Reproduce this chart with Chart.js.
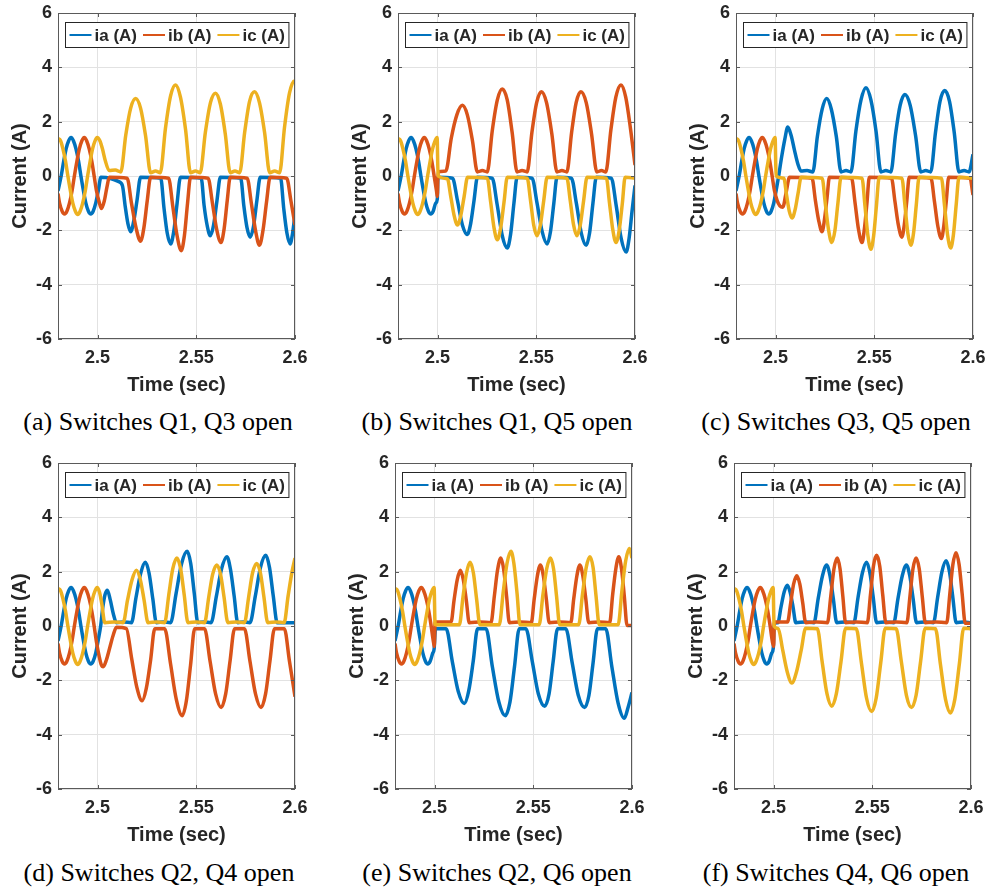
<!DOCTYPE html>
<html>
<head>
<meta charset="utf-8">
<script src="https://cdn.jsdelivr.net/npm/chart.js@4.4.1/dist/chart.umd.min.js"></script>
<style>
    body { margin: 0; background: #fff; }
    #fig { position: relative; width: 991px; height: 890px; overflow: hidden; }
    #fig canvas { position: absolute; }
    .cap {
        position: absolute; width: 340px; text-align: center; white-space: nowrap;
        font-family: "Liberation Serif", "Times New Roman", serif; font-size: 26px; line-height: 30px; color: #000;
    }
    #chartA { left: 0; top: 0; }
    #chartB { left: 340px; top: 0; }
    #chartC { left: 678px; top: 0; }
    #chartD { left: 0; top: 450px; }
    #chartE { left: 337px; top: 450px; }
    #chartF { left: 676px; top: 450px; }
    #capA { left: -12px; top: 407px; }
    #capB { left: 327px; top: 407px; }
    #capC { left: 666px; top: 407px; }
    #capD { left: -11px; top: 858px; }
    #capE { left: 327px; top: 858px; }
    #capF { left: 666px; top: 858px; }
</style>
</head>
<body>
<div id="fig">
    <canvas id="chartA" width="309" height="399"></canvas>
    <canvas id="chartB" width="309" height="399"></canvas>
    <canvas id="chartC" width="309" height="399"></canvas>
    <canvas id="chartD" width="309" height="399"></canvas>
    <canvas id="chartE" width="309" height="399"></canvas>
    <canvas id="chartF" width="309" height="399"></canvas>
    <div class="cap" id="capA"></div>
    <div class="cap" id="capB"></div>
    <div class="cap" id="capC"></div>
    <div class="cap" id="capD"></div>
    <div class="cap" id="capE"></div>
    <div class="cap" id="capF"></div>
</div>
<script>
const captions = [
    "(a) Switches Q1, Q3 open", "(b) Switches Q1, Q5 open", "(c) Switches Q3, Q5 open",
    "(d) Switches Q2, Q4 open", "(e) Switches Q2, Q6 open", "(f) Switches Q4, Q6 open",
];
const phaseNames = ["ia (A)", "ib (A)", "ic (A)"];
const timeTicks = [2.5, 2.55, 2.6];
const currentTicks = [-6, -4, -2, 0, 2, 4, 6];

// healthy operation before the fault at t = 2.5 s  [time, current]
const preIa = [[2.48,-0.55],[2.4816,0],[2.4829,0.55],[2.4841,1.0],[2.4854,1.3],[2.4866,1.42],[2.4878,1.3],[2.4891,1.0],[2.4904,0.55],[2.4916,0],[2.4929,-0.55],[2.4941,-1.0],[2.4954,-1.3],[2.4966,-1.4],[2.4978,-1.3],[2.4991,-1.0]];
const preIb = [[2.48,-0.65],[2.4808,-1.0],[2.4821,-1.3],[2.4833,-1.4],[2.4845,-1.3],[2.4858,-1.0],[2.4871,-0.55],[2.4883,0],[2.4896,0.55],[2.4908,1.0],[2.4921,1.3],[2.4933,1.42],[2.4945,1.3],[2.4958,1.0],[2.4971,0.55],[2.4983,0]];
const preIc = [[2.48,1.38],[2.4813,1.3],[2.4825,1.0],[2.4838,0.55],[2.485,0],[2.4863,-0.55],[2.4875,-1.0],[2.4888,-1.3],[2.49,-1.42],[2.4912,-1.3],[2.4925,-1.0],[2.4938,-0.55],[2.495,0],[2.4963,0.55],[2.4975,1.0],[2.4988,1.3],[2.4998,1.42]];

// (a) Q1, Q3 open
const iaA = [[2.5005,-0.5],[2.5017,-0.05],[2.507,-0.1],[2.5105,-0.2],[2.5126,-0.35],[2.5140,-1.1],[2.5154,-1.75],[2.5168,-2.05],[2.5185,-1.6],[2.5200,-0.9],[2.5218,-0.05],[2.5320,-0.08],[2.5337,-1.2],[2.5353,-2.1],[2.5370,-2.5],[2.5387,-2.0],[2.5403,-1.0],[2.5420,-0.05],[2.5525,-0.08],[2.5540,-1.1],[2.5556,-1.85],[2.5571,-2.2],[2.5588,-1.8],[2.5605,-0.9],[2.5622,-0.05],[2.5725,-0.08],[2.5741,-1.1],[2.5757,-1.9],[2.5773,-2.25],[2.5790,-1.85],[2.5807,-0.9],[2.5824,-0.05],[2.5927,-0.08],[2.5943,-1.2],[2.5959,-2.1],[2.5975,-2.5],[2.5988,-2.1],[2.6,-1.4]];
const ibA = [[2.4995,-0.55],[2.5008,-0.95],[2.502,-1.2],[2.5035,-0.9],[2.5048,-0.4],[2.506,-0.05],[2.5150,-0.08],[2.5172,-1.0],[2.5195,-1.9],[2.5218,-2.4],[2.5235,-1.9],[2.5252,-0.9],[2.5269,-0.05],[2.5360,-0.08],[2.5381,-1.1],[2.5403,-2.2],[2.5424,-2.75],[2.5440,-2.2],[2.5456,-1.0],[2.5471,-0.05],[2.5560,-0.08],[2.5582,-1.0],[2.5603,-1.95],[2.5625,-2.45],[2.5641,-1.95],[2.5657,-0.9],[2.5672,-0.05],[2.5758,-0.08],[2.5779,-1.0],[2.5800,-2.0],[2.5820,-2.55],[2.5838,-2.0],[2.5856,-0.95],[2.5874,-0.05],[2.5958,-0.08],[2.5979,-0.9],[2.6,-1.8]];
const icA = [[2.5012,1.3],[2.5025,1.0],[2.5040,0.55],[2.5059,0.2],[2.5090,0.22],[2.5118,0.15],[2.5143,1.5],[2.5168,2.5],[2.5193,2.85],[2.5218,2.5],[2.5243,1.5],[2.5269,0.12],[2.5294,0.18],[2.5318,0.12],[2.5344,1.75],[2.5370,2.95],[2.5395,3.35],[2.5420,2.9],[2.5446,1.7],[2.5471,0.12],[2.5496,0.18],[2.5520,0.12],[2.5546,1.6],[2.5572,2.7],[2.5597,3.05],[2.5622,2.65],[2.5647,1.55],[2.5672,0.12],[2.5696,0.18],[2.5720,0.12],[2.5745,1.6],[2.5770,2.75],[2.5795,3.1],[2.5820,2.7],[2.5846,1.6],[2.5872,0.12],[2.5897,0.18],[2.5922,0.12],[2.5947,1.8],[2.5972,3.05],[2.5997,3.5],[2.6,3.48]];

// (b) Q1, Q5 open
const iaB = [[2.4999,-0.85],[2.5002,-0.05],[2.5076,-0.08],[2.5101,-0.9],[2.5126,-1.8],[2.5151,-2.15],[2.5168,-1.75],[2.5185,-0.9],[2.5202,-0.05],[2.5277,-0.08],[2.5302,-1.05],[2.5328,-2.2],[2.5353,-2.65],[2.5370,-2.15],[2.5387,-1.0],[2.5403,-0.05],[2.5479,-0.08],[2.5504,-1.0],[2.5530,-2.05],[2.5555,-2.5],[2.5572,-2.05],[2.5589,-1.0],[2.5605,-0.05],[2.5678,-0.08],[2.5703,-1.0],[2.5728,-2.1],[2.5753,-2.55],[2.5770,-2.1],[2.5787,-1.0],[2.5804,-0.05],[2.5880,-0.08],[2.5905,-1.1],[2.5930,-2.3],[2.5955,-2.8],[2.5970,-2.3],[2.5985,-1.3],[2.6,-0.35]];
const ibB = [[2.4995,-0.55],[2.4999,-0.75],[2.5003,0.15],[2.5042,0.18],[2.5070,1.4],[2.5098,2.25],[2.5126,2.6],[2.5151,2.25],[2.5177,1.3],[2.5202,0.15],[2.5227,0.2],[2.5252,0.15],[2.5277,1.65],[2.5303,2.8],[2.5328,3.2],[2.5353,2.8],[2.5378,1.6],[2.5403,0.15],[2.5428,0.2],[2.5454,0.15],[2.5478,1.6],[2.5502,2.7],[2.5526,3.1],[2.5552,2.7],[2.5579,1.55],[2.5605,0.15],[2.5630,0.2],[2.5655,0.15],[2.5679,1.6],[2.5702,2.7],[2.5726,3.1],[2.5753,2.7],[2.5780,1.55],[2.5807,0.15],[2.5830,0.2],[2.5852,0.15],[2.5878,1.7],[2.5903,2.9],[2.5929,3.35],[2.5953,2.9],[2.5977,1.75],[2.6,0.4]];
const icB = [[2.5003,0.0],[2.5050,-0.1],[2.5067,-0.75],[2.5084,-1.45],[2.5101,-1.8],[2.5118,-1.45],[2.5135,-0.75],[2.5152,-0.05],[2.5252,-0.08],[2.5269,-0.95],[2.5286,-1.9],[2.5303,-2.35],[2.5320,-1.9],[2.5337,-0.95],[2.5353,-0.05],[2.5454,-0.08],[2.5471,-0.9],[2.5487,-1.8],[2.5504,-2.2],[2.5521,-1.8],[2.5538,-0.9],[2.5555,-0.05],[2.5655,-0.08],[2.5672,-0.9],[2.5689,-1.8],[2.5706,-2.2],[2.5723,-1.8],[2.5740,-0.9],[2.5757,-0.05],[2.5855,-0.08],[2.5871,-1.0],[2.5888,-2.0],[2.5904,-2.45],[2.5920,-2.0],[2.5936,-1.0],[2.5950,-0.05],[2.6,-0.08]];

// (c) Q3, Q5 open
const iaC = [[2.5004,-0.5],[2.5016,0],[2.5031,0.7],[2.5047,1.35],[2.5062,1.8],[2.5079,1.5],[2.5096,0.95],[2.5113,0.45],[2.5130,0.18],[2.5160,0.2],[2.5189,0.15],[2.5212,1.45],[2.5236,2.45],[2.5259,2.85],[2.5283,2.45],[2.5308,1.45],[2.5332,0.15],[2.5357,0.2],[2.5382,0.15],[2.5407,1.65],[2.5433,2.8],[2.5458,3.25],[2.5483,2.8],[2.5509,1.65],[2.5534,0.15],[2.5559,0.2],[2.5584,0.15],[2.5608,1.55],[2.5631,2.6],[2.5655,3.0],[2.5682,2.6],[2.5709,1.5],[2.5736,0.15],[2.5761,0.2],[2.5786,0.15],[2.5810,1.6],[2.5833,2.75],[2.5857,3.15],[2.5881,2.75],[2.5905,1.6],[2.5929,0.15],[2.5955,0.2],[2.5980,0.15],[2.6,0.8]];
const ibC = [[2.4995,-0.55],[2.5008,-0.9],[2.5022,-1.1],[2.5037,-1.15],[2.5054,-0.6],[2.5071,-0.05],[2.5185,-0.08],[2.5202,-0.9],[2.5219,-1.65],[2.5236,-2.05],[2.5248,-1.6],[2.5261,-0.8],[2.5273,-0.05],[2.5385,-0.08],[2.5403,-1.0],[2.5420,-1.95],[2.5438,-2.45],[2.5450,-1.95],[2.5463,-1.0],[2.5475,-0.05],[2.5587,-0.08],[2.5605,-0.95],[2.5622,-1.8],[2.5640,-2.25],[2.5652,-1.8],[2.5665,-0.9],[2.5677,-0.05],[2.5787,-0.08],[2.5805,-0.95],[2.5822,-1.85],[2.5840,-2.3],[2.5852,-1.85],[2.5865,-0.9],[2.5877,-0.05],[2.5985,-0.08],[2.6,-0.7]];
const icC = [[2.5003,0],[2.5042,-0.08],[2.5056,-0.7],[2.5070,-1.3],[2.5084,-1.55],[2.5099,-1.25],[2.5114,-0.65],[2.5130,-0.05],[2.5236,-0.08],[2.5252,-1.0],[2.5269,-2.0],[2.5285,-2.45],[2.5301,-2.0],[2.5316,-1.0],[2.5332,-0.05],[2.5438,-0.08],[2.5453,-1.1],[2.5468,-2.2],[2.5483,-2.7],[2.5497,-2.2],[2.5511,-1.1],[2.5525,-0.05],[2.5640,-0.08],[2.5655,-1.05],[2.5670,-2.1],[2.5685,-2.55],[2.5699,-2.1],[2.5713,-1.05],[2.5727,-0.05],[2.5840,-0.08],[2.5856,-1.1],[2.5871,-2.15],[2.5887,-2.65],[2.5901,-2.15],[2.5915,-1.05],[2.5929,-0.05],[2.6,-0.08]];

// (d) Q2, Q4 open
const iaD = [[2.5004,-0.5],[2.5016,0],[2.5027,0.7],[2.5038,1.15],[2.5050,1.32],[2.5065,0.95],[2.5080,0.45],[2.5096,0.12],[2.5135,0.15],[2.5172,0.12],[2.5195,1.05],[2.5219,1.95],[2.5242,2.35],[2.5261,1.95],[2.5280,1.0],[2.5298,0.12],[2.5335,0.15],[2.5370,0.12],[2.5398,1.2],[2.5426,2.3],[2.5454,2.75],[2.5472,2.3],[2.5490,1.2],[2.5508,0.12],[2.5540,0.15],[2.5575,0.12],[2.5602,1.1],[2.5628,2.1],[2.5655,2.55],[2.5673,2.1],[2.5692,1.1],[2.5710,0.12],[2.5740,0.15],[2.5772,0.12],[2.5799,1.1],[2.5825,2.15],[2.5852,2.6],[2.5871,2.15],[2.5890,1.1],[2.5910,0.12],[2.6,0.12]];
const ibD = [[2.4995,-0.6],[2.5008,-1.1],[2.5018,-1.4],[2.5029,-1.5],[2.5045,-1.25],[2.5062,-0.8],[2.5079,-0.35],[2.5096,-0.05],[2.5146,-0.1],[2.5173,-1.2],[2.5199,-2.25],[2.5226,-2.75],[2.5247,-2.3],[2.5269,-1.25],[2.5290,-0.1],[2.5340,-0.1],[2.5370,-1.4],[2.5399,-2.7],[2.5429,-3.3],[2.5450,-2.75],[2.5471,-1.45],[2.5492,-0.1],[2.5542,-0.1],[2.5570,-1.3],[2.5598,-2.5],[2.5626,-3.0],[2.5649,-2.5],[2.5671,-1.3],[2.5694,-0.1],[2.5744,-0.1],[2.5772,-1.3],[2.5800,-2.5],[2.5828,-3.0],[2.5851,-2.5],[2.5873,-1.3],[2.5896,-0.1],[2.5946,-0.1],[2.5972,-1.3],[2.6,-2.6]];
const icD = [[2.5010,1.25],[2.5022,0.8],[2.5037,0.12],[2.5085,0.15],[2.5130,0.12],[2.5152,0.95],[2.5175,1.7],[2.5197,2.05],[2.5217,1.7],[2.5236,0.95],[2.5256,0.12],[2.5298,0.15],[2.5340,0.12],[2.5361,1.15],[2.5381,2.1],[2.5402,2.5],[2.5421,2.1],[2.5439,1.15],[2.5458,0.12],[2.5500,0.15],[2.5542,0.12],[2.5563,1.05],[2.5583,1.9],[2.5604,2.25],[2.5623,1.9],[2.5641,1.05],[2.5660,0.12],[2.5702,0.15],[2.5744,0.12],[2.5765,1.05],[2.5785,1.95],[2.5806,2.3],[2.5825,1.95],[2.5843,1.05],[2.5862,0.12],[2.5905,0.15],[2.5945,0.12],[2.5965,1.1],[2.5985,2.0],[2.6,2.5]];

// (e) Q2, Q6 open
const iaE = [[2.4998,-0.85],[2.5005,-0.1],[2.5059,-0.1],[2.5090,-1.3],[2.5120,-2.4],[2.5151,-2.85],[2.5173,-2.4],[2.5196,-1.3],[2.5218,-0.1],[2.5261,-0.1],[2.5293,-1.5],[2.5326,-2.8],[2.5358,-3.3],[2.5382,-2.8],[2.5405,-1.5],[2.5429,-0.1],[2.5463,-0.1],[2.5495,-1.3],[2.5526,-2.5],[2.5558,-2.95],[2.5580,-2.5],[2.5601,-1.3],[2.5623,-0.1],[2.5665,-0.1],[2.5697,-1.35],[2.5728,-2.55],[2.5760,-3.0],[2.5782,-2.55],[2.5803,-1.35],[2.5825,-0.1],[2.5867,-0.1],[2.5898,-1.5],[2.5930,-2.85],[2.5961,-3.4],[2.5980,-3.0],[2.6,-2.45]];
const ibE = [[2.4995,-0.6],[2.4999,-0.75],[2.5003,0.15],[2.5084,0.15],[2.5099,0.95],[2.5115,1.7],[2.5131,2.05],[2.5146,1.7],[2.5161,0.95],[2.5176,0.12],[2.5231,0.15],[2.5286,0.12],[2.5303,1.1],[2.5319,2.05],[2.5336,2.5],[2.5350,2.1],[2.5365,1.1],[2.5379,0.12],[2.5435,0.15],[2.5490,0.12],[2.5505,1.0],[2.5521,1.85],[2.5536,2.25],[2.5551,1.85],[2.5566,1.0],[2.5581,0.12],[2.5635,0.15],[2.5690,0.12],[2.5705,1.0],[2.5721,1.85],[2.5736,2.25],[2.5751,1.85],[2.5766,1.0],[2.5781,0.12],[2.5835,0.15],[2.5887,0.12],[2.5902,1.15],[2.5918,2.1],[2.5933,2.55],[2.5947,2.1],[2.5961,1.1],[2.5975,0.02],[2.6,0.02]];
const icE = [[2.5003,0.05],[2.5126,0.05],[2.5144,1.05],[2.5162,1.95],[2.5180,2.35],[2.5197,1.95],[2.5213,1.0],[2.5230,0.05],[2.5328,0.05],[2.5348,1.25],[2.5367,2.3],[2.5387,2.75],[2.5402,2.3],[2.5418,1.2],[2.5433,0.05],[2.5530,0.05],[2.5549,1.15],[2.5568,2.1],[2.5587,2.5],[2.5603,2.1],[2.5618,1.1],[2.5634,0.05],[2.5730,0.05],[2.5749,1.15],[2.5768,2.15],[2.5787,2.55],[2.5803,2.15],[2.5818,1.1],[2.5834,0.05],[2.5930,0.05],[2.5949,1.3],[2.5968,2.4],[2.5987,2.85],[2.6,2.5]];

// (f) Q4, Q6 open
const iaF = [[2.4999,-0.8],[2.5003,0.1],[2.5022,0.12],[2.5038,0.7],[2.5054,1.25],[2.5070,1.5],[2.5084,1.25],[2.5099,0.7],[2.5113,0.12],[2.5160,0.15],[2.5205,0.12],[2.5226,1.0],[2.5248,1.85],[2.5269,2.25],[2.5286,1.85],[2.5303,1.0],[2.5320,0.12],[2.5363,0.15],[2.5407,0.12],[2.5428,1.05],[2.5450,1.95],[2.5471,2.35],[2.5488,1.95],[2.5505,1.05],[2.5522,0.12],[2.5565,0.15],[2.5609,0.12],[2.5630,1.0],[2.5652,1.85],[2.5673,2.25],[2.5690,1.85],[2.5707,1.0],[2.5724,0.12],[2.5767,0.15],[2.5810,0.12],[2.5831,1.05],[2.5853,2.0],[2.5874,2.4],[2.5891,2.0],[2.5908,1.05],[2.5925,0.12],[2.5962,0.15],[2.6,0.12]];
const ibF = [[2.4995,-0.6],[2.5001,-0.75],[2.5004,0.15],[2.5071,0.15],[2.5087,0.85],[2.5102,1.55],[2.5118,1.85],[2.5133,1.55],[2.5148,0.85],[2.5163,0.12],[2.5218,0.15],[2.5273,0.12],[2.5290,1.1],[2.5306,2.1],[2.5323,2.5],[2.5337,2.1],[2.5351,1.1],[2.5365,0.12],[2.5420,0.15],[2.5475,0.12],[2.5491,1.15],[2.5506,2.2],[2.5522,2.6],[2.5538,2.2],[2.5553,1.15],[2.5569,0.12],[2.5622,0.15],[2.5675,0.12],[2.5691,1.1],[2.5706,2.1],[2.5722,2.5],[2.5738,2.1],[2.5753,1.1],[2.5769,0.12],[2.5823,0.15],[2.5877,0.12],[2.5893,1.2],[2.5908,2.25],[2.5924,2.7],[2.5940,2.25],[2.5955,1.2],[2.5971,0.1],[2.6,0.1]];
const icF = [[2.5003,0],[2.5024,-0.1],[2.5047,-0.9],[2.5070,-1.7],[2.5093,-2.1],[2.5116,-1.7],[2.5140,-0.9],[2.5163,-0.08],[2.5222,-0.1],[2.5246,-1.3],[2.5271,-2.5],[2.5295,-2.95],[2.5318,-2.5],[2.5342,-1.3],[2.5365,-0.08],[2.5419,-0.1],[2.5445,-1.35],[2.5471,-2.65],[2.5497,-3.15],[2.5520,-2.65],[2.5543,-1.35],[2.5566,-0.08],[2.5621,-0.1],[2.5647,-1.3],[2.5673,-2.55],[2.5699,-3.0],[2.5722,-2.55],[2.5745,-1.3],[2.5768,-0.08],[2.5820,-0.1],[2.5845,-1.4],[2.5871,-2.7],[2.5896,-3.2],[2.5918,-2.7],[2.5941,-1.4],[2.5963,-0.08],[2.6,-0.1]];

const phaseColors = ["#0072BD", "#D95319", "#EDB120"];
const ink = "#262626";
const gridColor = "#e2e2e2";
const sans = "'Liberation Sans', Arial, Helvetica, sans-serif";

// box around the axes, inward tick marks and the legend inside the top edge
const axesBox = {
    id: "axesBox",
    afterDatasetsDraw(chart) {
        const {ctx, chartArea: a, scales: {x, y}} = chart;
        ctx.save();
        ctx.strokeStyle = "#5a5a5a";
        ctx.lineWidth = 1;
        ctx.strokeRect(a.left + 0.5, a.top + 0.5, a.width - 1, a.height - 1);
        ctx.beginPath();
        x.ticks.forEach(t => {
            const px = Math.round(x.getPixelForValue(t.value)) + 0.5;
            ctx.moveTo(px, a.bottom); ctx.lineTo(px, a.bottom - 4);
            ctx.moveTo(px, a.top); ctx.lineTo(px, a.top + 4);
        });
        y.ticks.forEach(t => {
            const py = Math.round(y.getPixelForValue(t.value)) + 0.5;
            ctx.moveTo(a.left, py); ctx.lineTo(a.left + 4, py);
            ctx.moveTo(a.right, py); ctx.lineTo(a.right - 4, py);
        });
        ctx.stroke();

        ctx.font = "bold 17px " + sans;
        const sets = chart.data.datasets;
        const widths = sets.map(d => ctx.measureText(d.label).width);
        const sample = 22, gap = 3, sep = 6, pad = 4, boxH = 25;
        const boxW = pad * 2 + widths.reduce((s, w) => s + w, 0) + sets.length * (sample + gap) + (sets.length - 1) * sep;
        const bx = Math.round((a.left + a.right) / 2 - boxW / 2) + 0.5;
        const by = a.top + 9.5;
        ctx.fillStyle = "#fff";
        ctx.fillRect(bx, by, boxW, boxH);
        ctx.strokeStyle = ink;
        ctx.strokeRect(bx, by, boxW, boxH);
        let cx = bx + pad;
        const cy = by + boxH / 2;
        ctx.textBaseline = "middle";
        sets.forEach((d, i) => {
            ctx.strokeStyle = d.borderColor;
            ctx.lineWidth = 2;
            ctx.beginPath();
            ctx.moveTo(cx, cy); ctx.lineTo(cx + sample, cy);
            ctx.stroke();
            ctx.fillStyle = ink;
            ctx.fillText(d.label, cx + sample + gap, cy + 1);
            cx += sample + gap + widths[i] + sep;
        });
        ctx.restore();
    },
};

function drawPanel(id, ia, ib, ic) {
    let ctx = document.getElementById(id).getContext("2d");
    const series = [preIa.concat(ia), preIb.concat(ib), preIc.concat(ic)];

    return new Chart(ctx, {
        type: "line",
        data: {
            datasets: series.map((s, i) => ({
                label: phaseNames[i],
                data: s.map(p => ({x: p[0], y: p[1]})),
                borderColor: phaseColors[i],
                borderWidth: 3.5,
                pointRadius: 0,
                fill: false,
                cubicInterpolationMode: "monotone",
                order: 2 - i,
            })),
        },
        options: {
            responsive: false,
            animation: false,
            devicePixelRatio: 1,
            events: [],
            layout: {padding: {top: 13, right: 14, left: 0, bottom: 0}},
            plugins: {legend: {display: false}, tooltip: {enabled: false}},
            scales: {
                x: {
                    type: "linear",
                    min: 2.48,
                    max: 2.6,
                    afterBuildTicks: s => { s.ticks = timeTicks.map(v => ({value: v})); },
                    afterFit: s => { s.height = 60; s.paddingLeft = 0; s.paddingRight = 0; },
                    ticks: {autoSkip: false, maxRotation: 0, padding: 8, color: ink,
                        font: {family: sans, size: 18, weight: "bold"}, callback: v => String(v)},
                    grid: {color: gridColor, drawTicks: false},
                    border: {display: false},
                    title: {display: true, text: "Time (sec)", color: ink,
                        font: {family: sans, size: 20, weight: "bold"}, padding: {top: 0, bottom: 2}},
                },
                y: {
                    min: -6,
                    max: 6,
                    afterBuildTicks: s => { s.ticks = currentTicks.map(v => ({value: v})); },
                    afterFit: s => { s.width = 58; s.paddingTop = 0; s.paddingBottom = 0; },
                    ticks: {autoSkip: false, padding: 6, color: ink,
                        font: {family: sans, size: 18, weight: "bold"}, callback: v => String(v)},
                    grid: {color: gridColor, drawTicks: false},
                    border: {display: false},
                    title: {display: true, text: "Current (A)", color: ink,
                        font: {family: sans, size: 20, weight: "bold"}, padding: {top: 8, bottom: 0}},
                },
            },
        },
        plugins: [axesBox],
    });
}

drawPanel("chartA", iaA, ibA, icA);
drawPanel("chartB", iaB, ibB, icB);
drawPanel("chartC", iaC, ibC, icC);
drawPanel("chartD", iaD, ibD, icD);
drawPanel("chartE", iaE, ibE, icE);
drawPanel("chartF", iaF, ibF, icF);

["capA", "capB", "capC", "capD", "capE", "capF"].forEach((id, i) => {
    document.getElementById(id).textContent = captions[i];
});
</script>
</body>
</html>
